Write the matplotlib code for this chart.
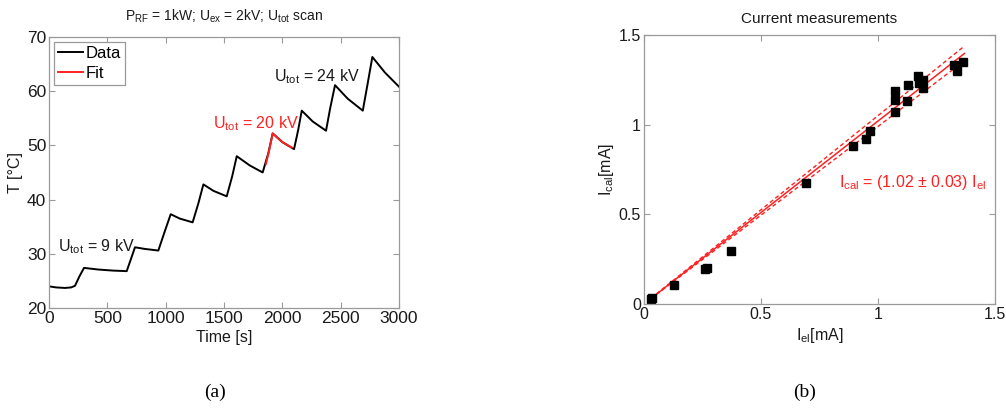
import matplotlib
matplotlib.use('Agg')
from matplotlib import pyplot as plt
import numpy as np

plt.rcParams['font.family'] = ['Liberation Sans', 'DejaVu Sans']
plt.rcParams['mathtext.fontset'] = 'custom'
plt.rcParams['mathtext.rm'] = 'Liberation Sans'
plt.rcParams['mathtext.it'] = 'Liberation Sans:italic'

# temperature trace during the U_tot scan
time_s = [0, 60, 137, 190, 223, 260, 300, 420, 550, 666, 700, 737, 820, 937, 990, 1043,
          1120, 1231, 1280, 1323, 1410, 1523, 1570, 1609, 1720, 1831, 1880, 1917,
          2000, 2100, 2135, 2166, 2260, 2374, 2410, 2451, 2560, 2689, 2730, 2771,
          2880, 3000]
temp_c = [24.0, 23.8, 23.7, 23.8, 24.1, 25.8, 27.4, 27.1, 26.9, 26.8, 28.9, 31.2, 30.9,
          30.6, 34.0, 37.3, 36.5, 35.8, 39.3, 42.8, 41.6, 40.6, 44.3, 48.0, 46.3,
          45.0, 48.6, 52.2, 50.6, 49.3, 52.8, 56.4, 54.4, 52.7, 56.9, 61.1, 58.6,
          56.4, 61.3, 66.3, 63.4, 60.8]

# fitted segment around U_tot = 20 kV
fit_time = [1860, 1890, 1917, 2000, 2080]
fit_temp = [46.6, 49.4, 52.2, 50.6, 49.6]

# calorimetric vs electric current
i_el = [0.029, 0.033, 0.130, 0.262, 0.271, 0.372, 0.694, 0.893, 0.950, 0.967,
        1.073, 1.073, 1.073, 1.128, 1.124, 1.172, 1.177, 1.192, 1.192, 1.325,
        1.339, 1.363]
i_cal = [0.028, 0.032, 0.104, 0.198, 0.202, 0.294, 0.676, 0.880, 0.922, 0.965,
         1.135, 1.189, 1.070, 1.219, 1.131, 1.272, 1.231, 1.252, 1.204, 1.331,
         1.302, 1.352]
slope = 1.02
slope_err = 0.03
fit_range = [0.03, 1.37]

axis_gray = '#9a9a9a'
text_col = '#1a1a1a'
red = '#ff2020'


def matlab_style(ax, tick_fs):
    for s in ax.spines.values():
        s.set_color(axis_gray)
        s.set_linewidth(0.9)
    ax.tick_params(direction='in', top=True, right=True, length=4, width=0.8,
                   color=axis_gray, labelsize=tick_fs, labelcolor=text_col, pad=2)


fig = plt.figure(figsize=(10.06, 4.12), dpi=100)

# (a) temperature
ax1 = fig.add_axes([0.0487, 0.2524, 0.348, 0.658])
ax1.plot(time_s, temp_c, color='black', lw=1.4, label='Data')
ax1.plot(fit_time, fit_temp, color=red, lw=1.4, label='Fit')
ax1.set_xlim(0, 3000)
ax1.set_ylim(20, 70)
ax1.set_xticks(np.arange(0, 3001, 500))
ax1.set_yticks(np.arange(20, 71, 10))
matlab_style(ax1, 12.5)
ax1.set_xlabel('Time [s]', fontsize=11.5, color=text_col, labelpad=3)
ax1.set_ylabel('T [°C]', fontsize=11.5, color=text_col, labelpad=3)
ax1.set_title(r'$\mathregular{P_{RF}}$ = 1kW; $\mathregular{U_{ex}}$ = 2kV; '
              r'$\mathregular{U_{tot}}$ scan', fontsize=10, color=text_col, pad=12)
leg = ax1.legend(loc='upper left', fontsize=12, fancybox=False, handlelength=1.5,
                 handletextpad=0.15, borderpad=0.25, labelspacing=0.3,
                 borderaxespad=0.3, framealpha=1)
leg.get_frame().set_edgecolor(axis_gray)
leg.get_frame().set_linewidth(0.9)
ax1.text(80, 31.3, r'$\mathregular{U_{tot}}$ = 9 kV', fontsize=11.5, color=text_col,
         va='center')
ax1.text(1405, 54.0, r'$\mathregular{U_{tot}}$ = 20 kV', fontsize=11.5,
         color=red, va='center')
ax1.text(1930, 62.6, r'$\mathregular{U_{tot}}$ = 24 kV', fontsize=11.5,
         color=text_col, va='center')

# (b) current comparison
ax2 = fig.add_axes([0.640, 0.262, 0.349, 0.653])
xf = np.array(fit_range)
ax2.plot(xf, slope * xf, color=red, lw=1.1)
ax2.plot(xf, (slope + slope_err) * xf, color=red, lw=1.0, ls='--', dashes=(3, 2))
ax2.plot(xf, (slope - slope_err) * xf, color=red, lw=1.0, ls='--', dashes=(3, 2))
ax2.plot(i_el, i_cal, 's', color='black', markersize=5.5, ls='none')
ax2.set_xlim(0, 1.5)
ax2.set_ylim(0, 1.5)
ax2.set_xticks([0, 0.5, 1, 1.5])
ax2.set_xticklabels(['0', '0.5', '1', '1.5'])
ax2.set_yticks([0, 0.5, 1, 1.5])
ax2.set_yticklabels(['0', '0.5', '1', '1.5'])
matlab_style(ax2, 11.5)
ax2.set_xlabel(r'$\mathregular{I_{el}}$[mA]', fontsize=11.5, color=text_col, labelpad=3)
ax2.set_ylabel(r'$\mathregular{I_{cal}}$[mA]', fontsize=11.5, color=text_col, labelpad=2)
ax2.set_title('Current measurements', fontsize=11, color=text_col, pad=9)
ax2.text(0.833, 0.675, r'$\mathregular{I_{cal}}$ = (1.02 ± 0.03) $\mathregular{I_{el}}$',
         fontsize=11.5, color=red, va='center')

fig.text(0.2137, 0.048, '(a)', fontsize=14, family='Liberation Serif', ha='center',
         va='center')
fig.text(0.8002, 0.048, '(b)', fontsize=14, family='Liberation Serif', ha='center',
         va='center')

fig.savefig('out.png', dpi=100)
